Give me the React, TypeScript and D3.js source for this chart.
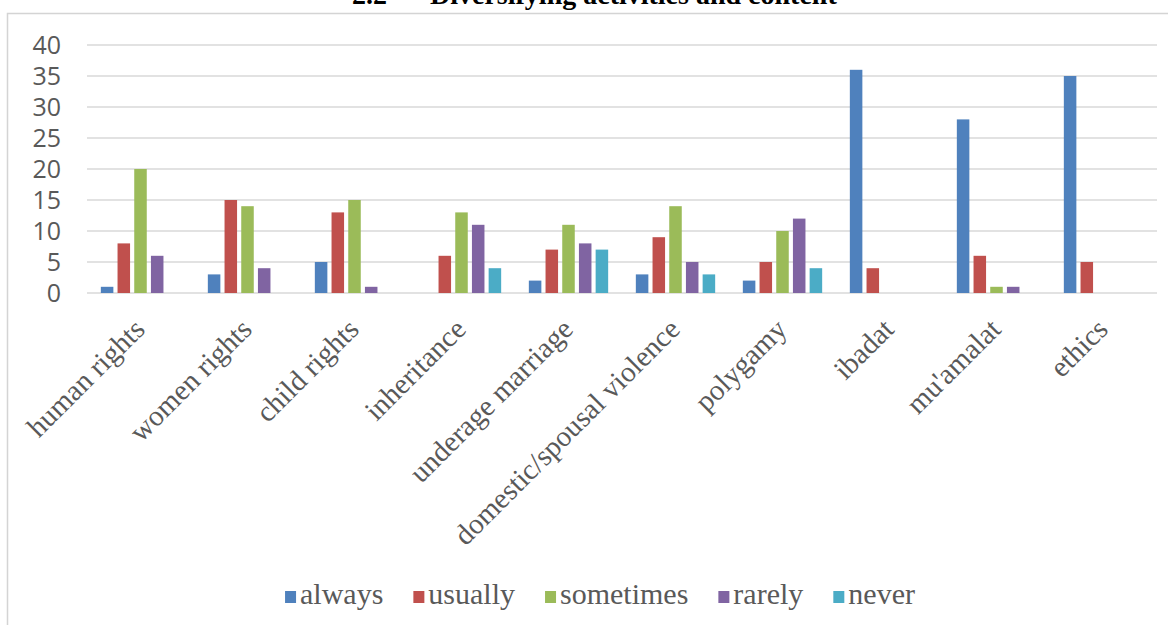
import React, { useEffect, useRef } from "react";
import * as d3 from "d3";

const categories = [
  "human rights",
  "women rights",
  "child rights",
  "inheritance",
  "underage marriage",
  "domestic/spousal violence",
  "polygamy",
  "ibadat",
  "mu'amalat",
  "ethics",
];
const seriesNames = ["always", "usually", "sometimes", "rarely", "never"];
const always = [1, 3, 5, 0, 2, 3, 2, 36, 28, 35];
const usually = [8, 15, 13, 6, 7, 9, 5, 4, 6, 5];
const sometimes = [20, 14, 15, 13, 11, 14, 10, 0, 1, 0];
const rarely = [6, 4, 1, 11, 8, 5, 12, 0, 1, 0];
const never = [0, 0, 0, 4, 7, 3, 4, 0, 0, 0];
const yTicks = [0, 5, 10, 15, 20, 25, 30, 35, 40];
const colors = ["#4F81BD", "#C0504D", "#9BBB59", "#8064A2", "#4BACC6"];
const titleNumber = "2.2";
const titleText = "Diversifying activities and content";

export default function App() {
  const ref = useRef<SVGSVGElement | null>(null);

  useEffect(() => {
    const svg = d3.select(ref.current);
    svg.selectAll("*").remove();
    const seriesValues = [always, usually, sometimes, rarely, never];

    // frame
    svg
      .append("rect")
      .attr("x", 7.5)
      .attr("y", 13.5)
      .attr("width", 1250)
      .attr("height", 700)
      .attr("fill", "#fff")
      .attr("stroke", "#d4d4d4")
      .attr("stroke-width", 1.5);

    // title (cut at top)
    const tfont = "'Liberation Serif', 'Times New Roman', serif";
    svg
      .append("text")
      .attr("x", 352)
      .attr("y", 4)
      .attr("font-family", tfont)
      .attr("font-weight", "bold")
      .attr("font-size", 28)
      .attr("fill", "#000")
      .text(titleNumber);
    svg
      .append("text")
      .attr("x", 430)
      .attr("y", 4)
      .attr("font-family", tfont)
      .attr("font-weight", "bold")
      .attr("font-size", 28)
      .attr("fill", "#000")
      .text(titleText);

    const x0 = d3.scaleBand<string>().domain(categories).range([87, 1157]).padding(0);
    const groupW = 16.7 * 4.75;
    const x1 = d3
      .scaleBand<string>()
      .domain(seriesNames)
      .range([0, groupW])
      .paddingInner(0.25)
      .paddingOuter(0);
    const y = d3.scaleLinear().domain([0, 40]).range([293, 45]);

    // gridlines
    svg
      .append("g")
      .selectAll("line")
      .data(yTicks)
      .join("line")
      .attr("x1", 87)
      .attr("x2", 1157)
      .attr("y1", (d) => y(d))
      .attr("y2", (d) => y(d))
      .attr("stroke", "#d9d9d9")
      .attr("stroke-width", 1.5);

    // y labels
    svg
      .append("g")
      .selectAll("text")
      .data(yTicks)
      .join("text")
      .attr("x", 61)
      .attr("y", (d) => y(d))
      .attr("dy", "0.36em")
      .attr("text-anchor", "end")
      .attr("font-family", "'Open Sans', sans-serif")
      .attr("font-size", 25)
      .attr("fill", "#595959")
      .text((d) => String(d));

    // bars
    const offset = (x0.bandwidth() - groupW) / 2;
    seriesNames.forEach((s, si) => {
      svg
        .append("g")
        .selectAll("rect")
        .data(seriesValues[si].map((v, i) => ({ v, c: categories[i] })))
        .join("rect")
        .filter((d) => d.v > 0)
        .attr("x", (d) => (x0(d.c) as number) + offset + (x1(s) as number))
        .attr("y", (d) => y(d.v))
        .attr("width", x1.bandwidth())
        .attr("height", (d) => y(0) - y(d.v))
        .attr("fill", colors[si]);
    });

    // x labels
    svg
      .append("g")
      .selectAll("text")
      .data(categories)
      .join("text")
      .attr("transform", (d) => {
        const cx = (x0(d) as number) + x0.bandwidth() / 2 + 6;
        return `translate(${cx},${331}) rotate(-45)`;
      })
      .attr("text-anchor", "end")
      .attr("font-family", tfont)
      .attr("font-size", 29)
      .attr("fill", "#595959")
      .text((d) => d);

    // legend
    const lg = svg.append("g");
    const items: { w: number; g: any }[] = [];
    seriesNames.forEach((s, si) => {
      const g = lg.append("g");
      g.append("rect")
        .attr("x", 0)
        .attr("y", -13)
        .attr("width", 11)
        .attr("height", 12)
        .attr("fill", colors[si]);
      const t = g
        .append("text")
        .attr("x", 15)
        .attr("y", 0)
        .attr("font-family", tfont)
        .attr("font-size", 30)
        .attr("fill", "#595959")
        .text(s);
      const tw = (t.node() as SVGTextElement).getComputedTextLength();
      items.push({ w: 15 + tw, g });
    });
    const gap = 30;
    const total = d3.sum(items, (d) => d.w) + gap * (items.length - 1);
    let cx = 600 - total / 2;
    items.forEach((it) => {
      it.g.attr("transform", `translate(${cx},${604})`);
      cx += it.w + gap;
    });
  }, []);

  return (
    <svg
      ref={ref}
      width={1168}
      height={625}
      style={{ position: "absolute", left: 0, top: 0, background: "#fff" }}
    />
  );
}
